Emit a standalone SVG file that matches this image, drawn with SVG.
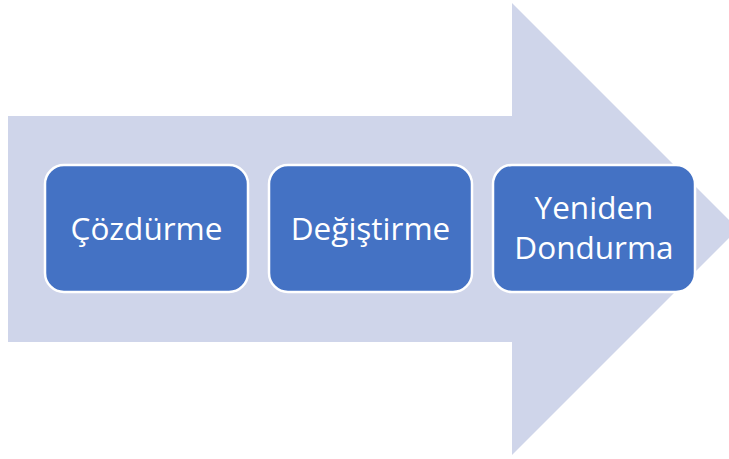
<svg xmlns="http://www.w3.org/2000/svg" width="729" height="459" viewBox="0 0 729 459">
<style>
.box{fill:#4472C4;stroke:#FFFFFF;stroke-width:2.5}
.lbl{font-family:"Open Sans","Noto Sans",sans-serif;font-size:31.5px;fill:#FFFFFF;text-anchor:middle}
</style>
<rect width="729" height="459" fill="#FFFFFF"/>
<g id="arrow">
<polygon points="8,116 512,116 512,3 738,229 512,455 512,342 8,342" fill="#CFD5EA"/>
</g>
<g id="connectors"/>
<g id="node1">
<rect class="box" x="45" y="165" width="203" height="127" rx="19"/>
<text class="lbl" x="146.5" y="240">Çözdürme</text>
</g>
<g id="node2">
<rect class="box" x="269" y="165" width="203" height="127" rx="19"/>
<text class="lbl" x="370.5" y="240">Değiştirme</text>
</g>
<g id="node3">
<rect class="box" x="493" y="165" width="202" height="127" rx="19"/>
<text class="lbl" x="594" y="219">Yeniden</text>
<text class="lbl" x="594" y="259">Dondurma</text>
</g>
</svg>
